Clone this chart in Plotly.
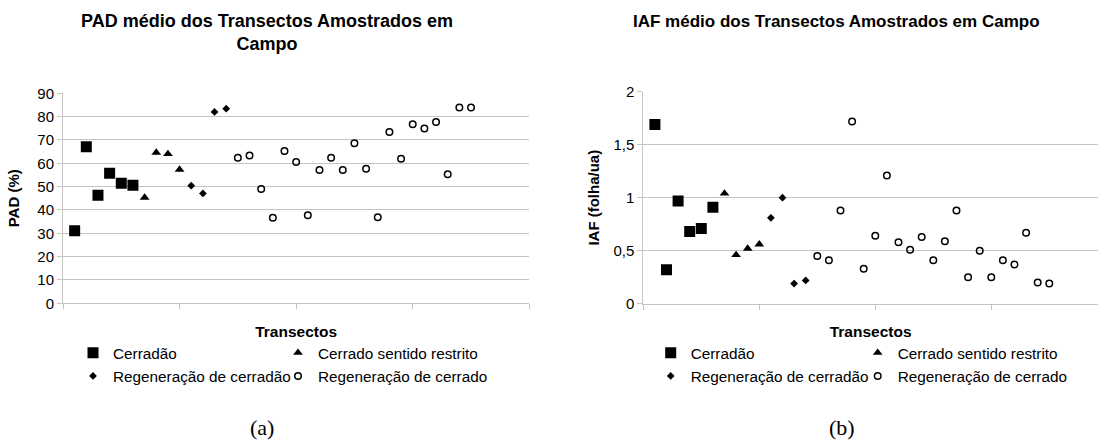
import plotly.graph_objects as go

# ---------------- data ----------------
series_names = ["Cerradão", "Cerrado sentido restrito",
                "Regeneração de cerradão", "Regeneração de cerrado"]

x_cerradao = [1, 2, 3, 4, 5, 6]
x_restrito = [7, 8, 9, 10]
x_reg_cerradao = [11, 12, 13, 14]
x_reg_cerrado = [15, 16, 17, 18, 19, 20, 21, 22, 23, 24, 25,
                 26, 27, 28, 29, 30, 31, 32, 33, 34, 35]

pad_cerradao = [31.1, 67.1, 46.3, 55.7, 51.4, 50.6]
pad_restrito = [45.3, 64.6, 64.0, 57.3]
pad_reg_cerradao = [50.4, 47.1, 82.0, 83.4]
pad_reg_cerrado = [62.4, 63.3, 49.0, 36.7, 65.3, 60.6, 37.7, 57.1, 62.4, 57.1, 68.6,
                   57.7, 36.9, 73.4, 62.0, 76.7, 74.9, 77.7, 55.3, 83.9, 83.9]

iaf_cerradao = [1.69, 0.32, 0.97, 0.68, 0.71, 0.91]
iaf_restrito = [1.04, 0.46, 0.52, 0.56]
iaf_reg_cerradao = [0.81, 1.00, 0.19, 0.22]
iaf_reg_cerrado = [0.45, 0.41, 0.88, 1.72, 0.33, 0.64, 1.21, 0.58, 0.51, 0.63, 0.41,
                   0.59, 0.88, 0.25, 0.50, 0.25, 0.41, 0.37, 0.67, 0.20, 0.19]

pad_tickvals = [0, 10, 20, 30, 40, 50, 60, 70, 80, 90]
pad_ticktext = ["0", "10", "20", "30", "40", "50", "60", "70", "80", "90"]
iaf_tickvals = [0, 0.5, 1, 1.5, 2]
iaf_ticktext = ["0", "0,5", "1", "1,5", "2"]

# ---------------- styles ----------------
FONT = "Liberation Sans, Arial, sans-serif"
GRID = "#c4c4c4"
markers = [
    dict(symbol="square", size=11, color="black"),
    dict(symbol="triangle-up", size=8.5, color="black"),
    dict(symbol="diamond", size=6, color="black"),
    dict(symbol="circle-open", size=6.5, color="black", line=dict(width=1.5, color="black")),
]

fig = go.Figure()

left_sets = [(x_cerradao, pad_cerradao), (x_restrito, pad_restrito),
             (x_reg_cerradao, pad_reg_cerradao), (x_reg_cerrado, pad_reg_cerrado)]
right_sets = [(x_cerradao, iaf_cerradao), (x_restrito, iaf_restrito),
              (x_reg_cerradao, iaf_reg_cerradao), (x_reg_cerrado, iaf_reg_cerrado)]
left_legends = ["legend", "legend", "legend2", "legend2"]
right_legends = ["legend3", "legend3", "legend4", "legend4"]
left_entry_w = [160, 210, 160, 210]
right_entry_w = [162, 210, 162, 210]

for i, (xs, ys) in enumerate(left_sets):
    fig.add_trace(go.Scatter(x=xs, y=ys, mode="markers", name=series_names[i],
                             marker=markers[i], xaxis="x", yaxis="y",
                             legend=left_legends[i], legendwidth=left_entry_w[i]))
for i, (xs, ys) in enumerate(right_sets):
    fig.add_trace(go.Scatter(x=xs, y=ys, mode="markers", name=series_names[i],
                             marker=markers[i], xaxis="x2", yaxis="y2",
                             legend=right_legends[i], legendwidth=right_entry_w[i]))

W, H = 1098, 441


def px(x):
    return x / W


def py(y):
    return (H - y) / H


xcommon = dict(showgrid=False, zeroline=False, showline=True, linecolor=GRID, linewidth=1,
               ticks="outside", ticklen=5, tickcolor=GRID, dtick=10, tick0=0,
               showticklabels=False,
               title=dict(text="<b>Transectos</b>", font=dict(family=FONT, size=15.5, color="black"),
                          standoff=17))
ycommon = dict(showgrid=True, gridcolor=GRID, gridwidth=1, zeroline=False, showline=True,
               linecolor=GRID, linewidth=1, ticks="outside", ticklen=5, tickcolor=GRID,
               tickfont=dict(family=FONT, size=15, color="black"))

fig.update_layout(
    width=W, height=H,
    margin=dict(l=0, r=0, t=0, b=0, autoexpand=False),
    paper_bgcolor="white", plot_bgcolor="white",
    font=dict(family=FONT, color="black"),
    xaxis=dict(xcommon, domain=[px(63), px(529.3)], range=[0, 40], anchor="y"),
    yaxis=dict(ycommon, domain=[py(303.3), py(93.3)], range=[0, 90],
               tickvals=pad_tickvals, ticktext=pad_ticktext, anchor="x",
               title=dict(text="<b>PAD (%)</b>", font=dict(family=FONT, size=15, color="black"),
                          standoff=14)),
    xaxis2=dict(xcommon, domain=[px(643.3), 1.0], range=[0, 39.2], anchor="y2"),
    yaxis2=dict(ycommon, domain=[py(303.7), py(91.7)], range=[0, 2],
                tickvals=iaf_tickvals, ticktext=iaf_ticktext, anchor="x2",
                title=dict(text="<b>IAF (folha/ua)</b>", font=dict(family=FONT, size=15, color="black"),
                           standoff=10)),
)

leg_common = dict(orientation="h",
                  font=dict(family=FONT, size=15.3, color="black"),
                  bgcolor="rgba(0,0,0,0)", xanchor="left", yanchor="middle",
                  itemclick=False, itemdoubleclick=False, tracegroupgap=0)
fig.update_layout(
    legend=dict(leg_common, x=px(109 - 36), y=py(352.7)),
    legend2=dict(leg_common, x=px(109 - 36), y=py(376)),
    legend3=dict(leg_common, x=px(686.7 - 36), y=py(352.7)),
    legend4=dict(leg_common, x=px(686.7 - 36), y=py(376)),
)

fig.add_annotation(text="<b>PAD médio dos Transectos Amostrados em<br>Campo</b>",
                   xref="paper", yref="paper", x=px(267), y=py(33), showarrow=False,
                   font=dict(family=FONT, size=18, color="black"),
                   align="center", xanchor="center", yanchor="middle")
fig.add_annotation(text="<b>IAF médio dos Transectos Amostrados em Campo</b>",
                   xref="paper", yref="paper", x=px(836), y=py(22), showarrow=False,
                   font=dict(family=FONT, size=17, color="black"), xanchor="center", yanchor="middle")
serif = dict(family="Liberation Serif, Times New Roman, serif", size=22, color="black")
fig.add_annotation(text="(a)", xref="paper", yref="paper", x=px(262), y=py(427),
                   showarrow=False, font=serif, xanchor="center", yanchor="middle")
fig.add_annotation(text="(b)", xref="paper", yref="paper", x=px(842), y=py(427),
                   showarrow=False, font=serif, xanchor="center", yanchor="middle")

fig.write_html("out.html", config={"displayModeBar": False},
               post_script="document.body.style.margin='0';document.body.style.overflow='hidden';")
